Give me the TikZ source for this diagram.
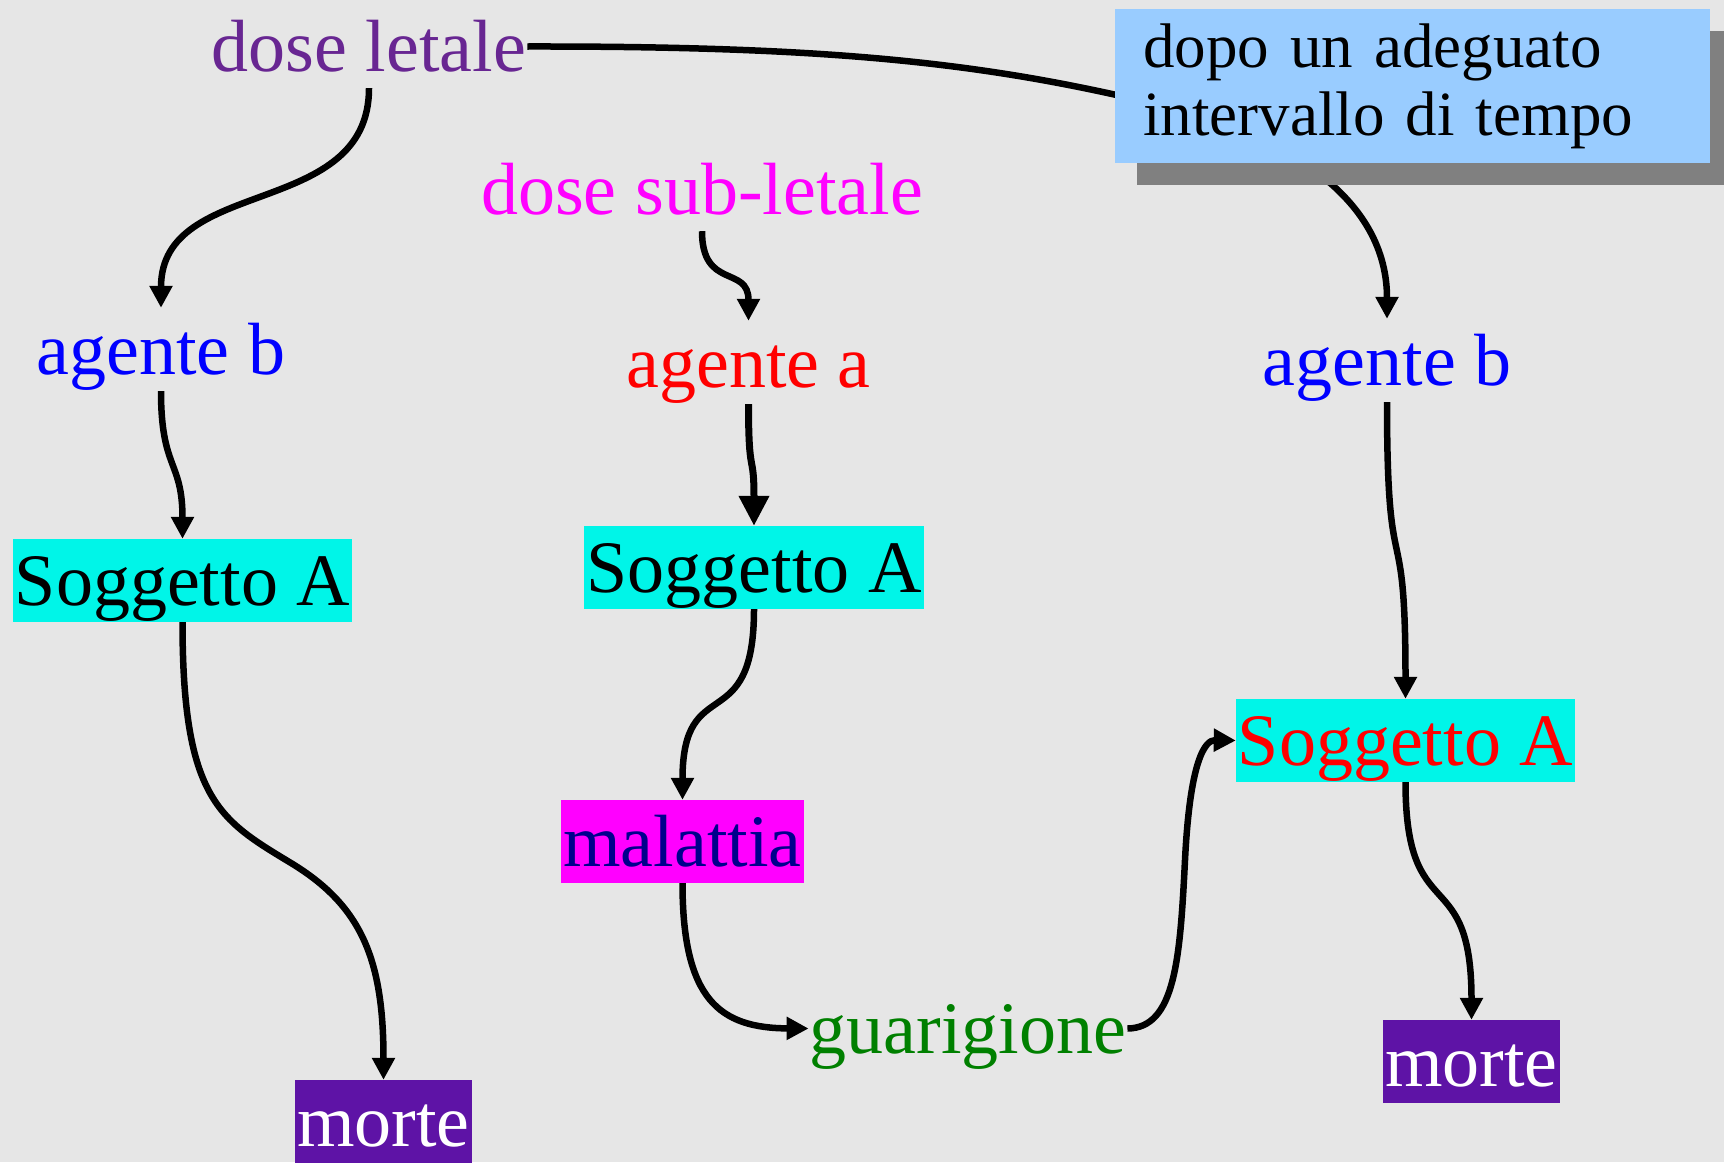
\documentclass[tikz,border=0pt]{standalone}
\usepackage{fontspec}
\setmainfont{Liberation Serif}
\usetikzlibrary{arrows.meta,shadows}
\definecolor{bg}{RGB}{230,230,230}
\definecolor{dlpurple}{RGB}{104,38,146}
\definecolor{cyanbox}{RGB}{0,245,232}
\definecolor{mortebox}{RGB}{94,19,166}
\definecolor{navy}{RGB}{0,0,140}
\definecolor{guargreen}{RGB}{0,128,0}
\definecolor{boxblue}{RGB}{153,204,255}
\definecolor{shadowgray}{RGB}{128,128,128}
\definecolor{pmagenta}{RGB}{255,0,255}
\definecolor{pblue}{RGB}{0,0,255}
\definecolor{pred}{RGB}{255,0,0}
\newcommand\dfont{\fontsize{74pt}{80pt}\selectfont}
\newcommand\bxfont{\fontsize{63pt}{68pt}\selectfont}
\tikzset{
  lbl/.style={inner xsep=1pt, inner ysep=0pt, text height=66pt, text depth=17pt, font=\dfont, anchor=base},
  boxed/.style={lbl, inner xsep=2pt, fill=#1},
  conn/.style={line width=6.5pt, -{Triangle[length=22pt,width=22pt]}},
  bigconn/.style={line width=7pt, -{Triangle[length=30pt,width=29pt]}},
}
\begin{document}
\begin{tikzpicture}[x=1pt,y=-1pt]
\fill[bg] (0,0) rectangle (1724,1162);
\useasboundingbox (0,0) rectangle (1724,1162);
% left column
\node[lbl, text=dlpurple] (dl) at (369,71) {dose letale};
\node[lbl, text=pblue] (ab1) at (161,374) {agente b};
\node[boxed=cyanbox, text=black] (sa1) at (182.5,605) {Soggetto A};
\node[boxed=mortebox, text=white] (m1) at (383.5,1146) {morte};
% middle column
\node[lbl, text=pmagenta] (dsl) at (702,214) {dose sub-letale};
\node[lbl, text=pred] (aa) at (748.5,387) {agente a};
\node[boxed=cyanbox, text=black] (sa2) at (754,592) {Soggetto A};
\node[boxed=pmagenta, text=navy] (mal) at (682.5,866) {malattia};
\node[lbl, text=guargreen] (gu) at (968,1053) {guarigione};
% right column
\node[lbl, text=pblue] (ab2) at (1387,385) {agente b};
\node[boxed=cyanbox, text=pred] (sa3) at (1405.5,765) {Soggetto A};
\node[boxed=mortebox, text=white] (m2) at (1471.5,1086) {morte};
% connectors
\draw[conn] (dl.south) .. controls (369,220) and (161,175) .. (ab1.north);
\draw[conn] (dl.east) .. controls (850,46) and (1000,65) .. (1180,110)
  .. controls (1290,140) and (1387,200) .. (ab2.north);
\draw[conn] (ab1.south) .. controls (161,470) and (182.5,460) .. (sa1.north);
\draw[conn] (sa1.south) .. controls (182.5,800) and (220,820) .. (291,863)
  .. controls (362,906) and (383.5,960) .. (m1.north);
\draw[conn] (dsl.south) .. controls (702,290) and (748.5,265) .. (aa.north);
\draw[bigconn] (aa.south) .. controls (748.5,480) and (754,450) .. (sa2.north);
\draw[conn] (sa2.south) .. controls (754,740) and (682.5,670) .. (mal.north);
\draw[conn] (mal.south) .. controls (682.5,1000) and (720,1028) .. (gu.west);
\draw[conn] (gu.east) .. controls (1175,1028) and (1180,960) .. (1185,860)
  .. controls (1190,760) and (1205,740) .. (sa3.west);
\draw[conn] (ab2.south) .. controls (1387,600) and (1405.5,500) .. (sa3.north);
\draw[conn] (sa3.south) .. controls (1405.5,930) and (1471.5,860) .. (m2.north);
% note box
\node[fill=boxblue, anchor=north west, minimum width=595pt, minimum height=154pt,
      inner xsep=28pt, inner ysep=12pt, text width=539pt, align=left, font=\bxfont,
      drop shadow={shadow xshift=22pt, shadow yshift=-22pt, opacity=1, fill=shadowgray}]
      (note) at (1115,9) {dopo un adeguato\\intervallo di tempo};
\end{tikzpicture}
\end{document}
